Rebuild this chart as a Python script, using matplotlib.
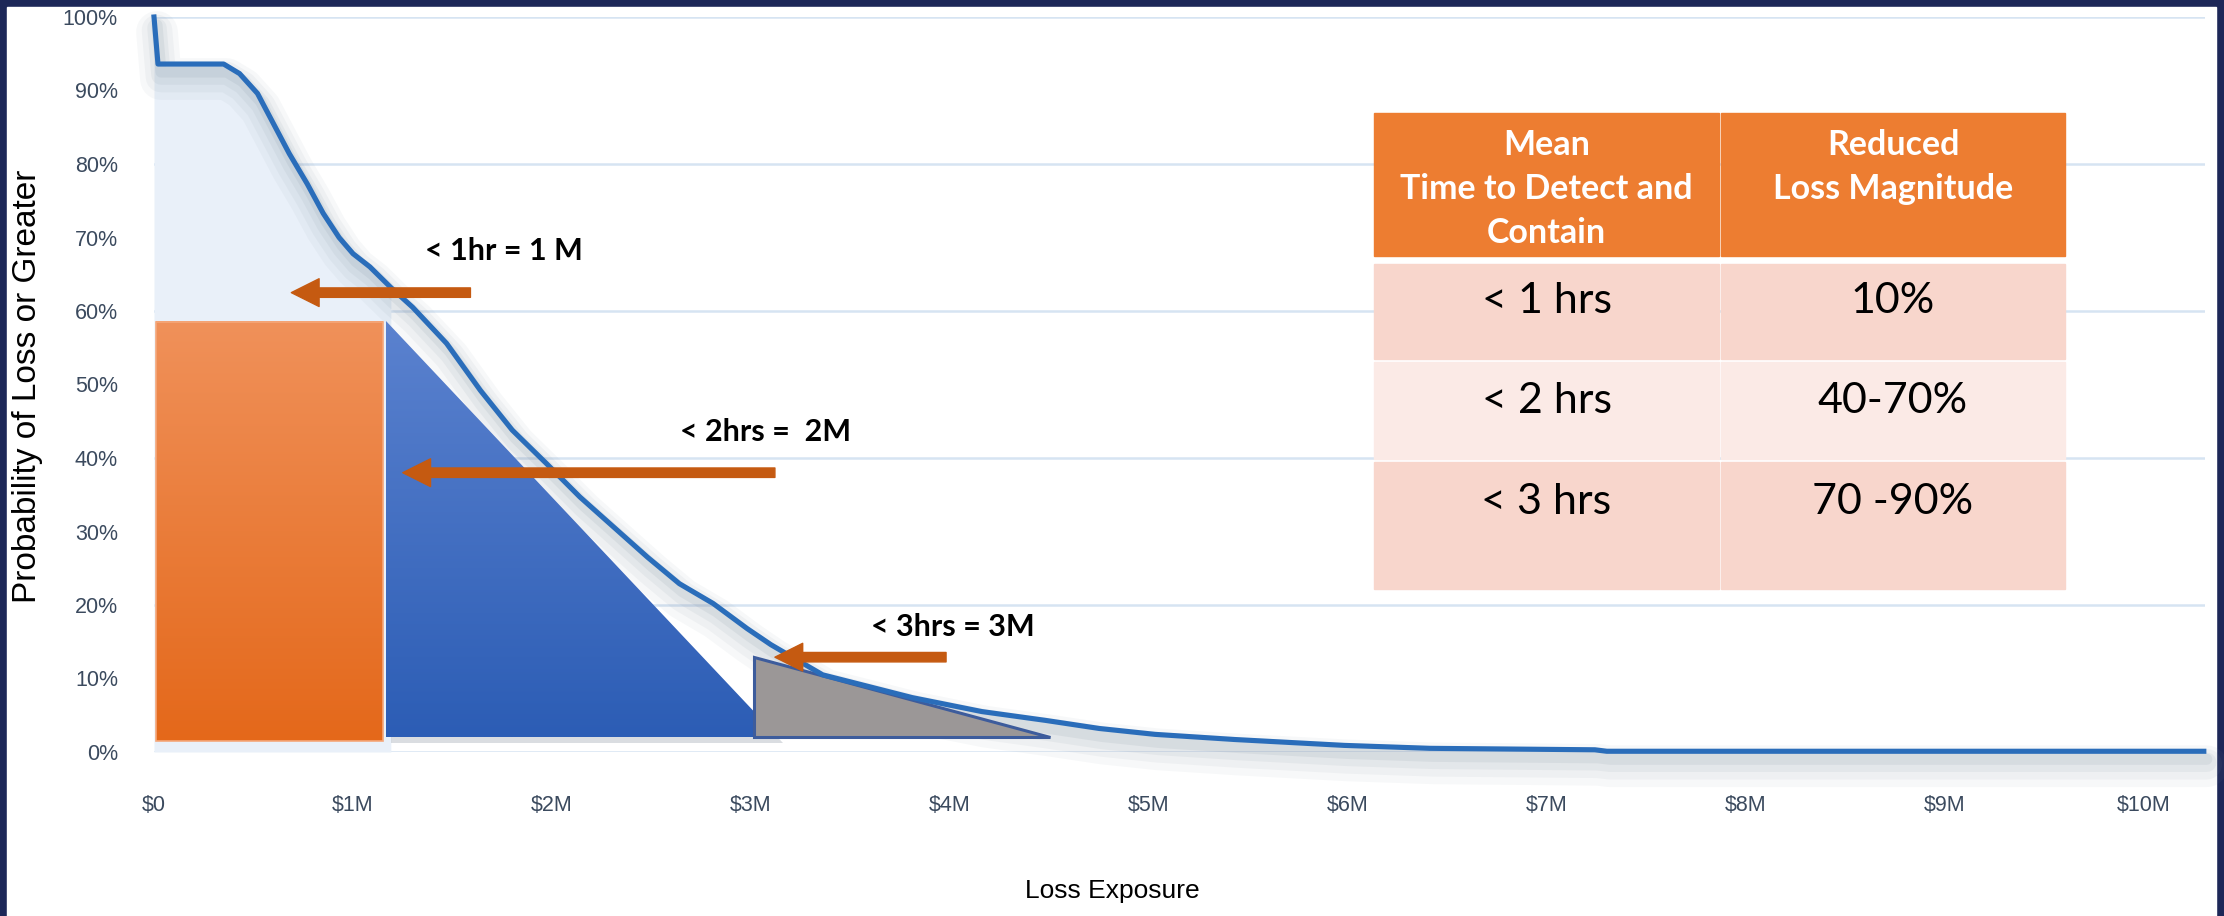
import matplotlib
matplotlib.use('Agg')
import matplotlib.pyplot as plt
import matplotlib.patches as mpatches
import matplotlib.transforms as mtransforms
import numpy as np

W, H = 2224, 916

#### Data
# loss exceedance curve: loss in $M, probability in %
loss_m = [0, 0.02, 0.35, 0.43, 0.52, 0.60, 0.68, 0.77, 0.85, 0.93, 1.00, 1.085,
          1.19, 1.30, 1.47, 1.64, 1.80, 1.97, 2.14, 2.31, 2.48, 2.64, 2.81,
          2.98, 3.10, 3.36, 3.81, 4.16, 4.48, 4.75, 5.03, 5.43, 5.98, 6.41,
          7.24, 7.30, 10.3]
prob_pct = [100, 93.6, 93.6, 92.3, 89.6, 85.5, 81.4, 77.3, 73.3, 70.0, 67.8, 66.0,
            63.2, 60.5, 55.6, 49.2, 43.8, 39.3, 34.7, 30.6, 26.5, 22.9, 20.2,
            16.8, 14.6, 10.5, 7.4, 5.5, 4.3, 3.2, 2.4, 1.7, 0.9, 0.5,
            0.3, 0.1, 0.1]

y_ticks = list(range(0, 101, 10))
y_labels = ['%d%%' % v for v in y_ticks]
x_ticks = list(range(0, 11))
x_labels = [r'\$0'] + [r'\$%dM' % v for v in range(1, 11)]

# shaded regions
box_1hr = (0.01, 1.15, 1.45, 58.5)  # x0, x1, y0, y1
tri_2hr = [(1.166, 58.7), (1.166, 2.1), (3.135, 2.1)]
tri_3hr = [(3.015, 12.9), (3.015, 2.1), (4.5, 2.1)]

# arrows and their labels
arrow_tail = [(1.59, 62.5), (3.12, 38.0), (3.98, 12.9)]
arrow_tip = [(0.69, 62.5), (1.25, 38.0), (3.12, 12.9)]
arrow_text = ['< 1hr = 1 M', '< 2hrs =  2M', '< 3hrs = 3M']
text_pos = [(1.76, 68.1), (3.075, 43.5), (4.015, 17.0)]

# table
col_headers = ['Mean\nTime to Detect and\nContain', 'Reduced\nLoss Magnitude']
detect_times = ['< 1 hrs', '< 2 hrs', '< 3 hrs']
loss_reduction = ['10%', '40-70%', '70 -90%']

narrow = ['Liberation Sans Narrow', 'Liberation Sans', 'DejaVu Sans']
calib = ['Lato', 'DejaVu Sans']


def fx(px):
    return px / W


def fy(py):
    return 1 - py / H


#### Figure
fig = plt.figure(figsize=(W / 100, H / 100), dpi=100)
fig.patch.set_facecolor('#1d2758')
fig.patches.append(mpatches.Rectangle((fx(7), 0), fx(2216) - fx(7), fy(7),
                                      transform=fig.transFigure, color='white', zorder=-5))

ax = fig.add_axes([fx(154), fy(752), fx(2205) - fx(154), fy(17) - fy(752)])
ax.set_facecolor('none')
for s in ax.spines.values():
    s.set_visible(False)

for g in range(0, 101, 20):
    ax.axhline(g, color='#d6e4f2', lw=1.8, zorder=1)

x = np.array(loss_m)
y = np.array(prob_pct)

# light fill under the top of the curve
ax.fill_between(x, y, 0, where=x <= 1.2, color='#e9f0f9', zorder=1.5, lw=0)

# soft shadow below the curve
for lw, a, dy in [(30, 0.06, -15), (22, 0.07, -13), (14, 0.09, -11), (8, 0.12, -8)]:
    tr = mtransforms.offset_copy(ax.transData, fig=fig, x=3, y=dy, units='dots')
    ax.plot(x, y, color='#7d8d9c', lw=lw, alpha=a, transform=tr, zorder=2,
            solid_capstyle='round', clip_on=False)

# gradient boxes
grad = np.linspace(0, 1, 256).reshape(-1, 1)
x0, x1, y0, y1 = box_1hr
orange_cmap = matplotlib.colors.LinearSegmentedColormap.from_list('o', ['#f0915a', '#e4681a'])
ax.imshow(grad, extent=[x0, x1, y0, y1], cmap=orange_cmap, aspect='auto', zorder=3,
          origin='upper')
ax.add_patch(mpatches.Rectangle((x0, y0), x1 - x0, y1 - y0, fill=False,
                                edgecolor='#f5a77a', lw=1.2, zorder=3.1))

# shadow under the blue triangle
tr_sh = mtransforms.offset_copy(ax.transData, fig=fig, x=5, y=-6, units='dots')
ax.add_patch(mpatches.Polygon(tri_2hr, closed=True, color='#6c7a88', alpha=0.25,
                              transform=tr_sh, zorder=2.9, lw=0))

blue_cmap = matplotlib.colors.LinearSegmentedColormap.from_list('b', ['#5b82cf', '#2c5db5'])
tri = mpatches.Polygon(tri_2hr, closed=True, facecolor='none', edgecolor='none')
ax.add_patch(tri)
bx = [p[0] for p in tri_2hr]
by = [p[1] for p in tri_2hr]
im = ax.imshow(grad, extent=[min(bx), max(bx), min(by), max(by)], cmap=blue_cmap,
               aspect='auto', zorder=3, origin='upper')
im.set_clip_path(tri)

ax.add_patch(mpatches.Polygon(tri_3hr, closed=True, facecolor='#9b9797',
                              edgecolor='#3d5c9c', lw=2.2, zorder=3.2))

# the curve
ax.plot(x, y, color='#2a6dba', lw=3.7, zorder=4, clip_on=False, solid_joinstyle='round')

# arrows
for tail, tip, txt, pos in zip(arrow_tail, arrow_tip, arrow_text, text_pos):
    ax.annotate('', xy=tip, xytext=tail,
                arrowprops=dict(arrowstyle='simple,head_length=1.0,head_width=1.0,tail_width=0.34',
                                mutation_scale=20, color='#c55a11', shrinkA=0, shrinkB=0),
                zorder=5)
    ax.text(pos[0], pos[1], txt, fontsize=22, fontweight='bold', family=calib,
            ha='center', va='center', color='black', zorder=6)

ax.set_xlim(0, 10.306)
ax.set_ylim(0, 100)
ax.set_yticks(y_ticks)
ax.set_yticklabels(y_labels, family=narrow, fontsize=15.5, color='#3b4a5e')
ax.set_xticks(x_ticks)
ax.set_xticklabels(x_labels, family=narrow, fontsize=15.5, color='#3b4a5e')
ax.tick_params(axis='y', length=0, pad=26)
ax.tick_params(axis='x', length=0, pad=31)

fig.text(fx(1112), fy(891), 'Loss Exposure', family=narrow, fontsize=19,
         ha='center', va='center', color='black')
fig.text(fx(28), fy(386), 'Probability of Loss or Greater', family=['Liberation Sans', 'DejaVu Sans'],
         fontsize=24, rotation=90, ha='center', va='center', color='black')

#### Table
cols = [(1374, 1719), (1721, 2065)]
head_y = (113, 256)
row_y = [(264, 359), (362, 459), (462, 589)]
row_col = ['#f8d6cc', '#fbeae6', '#f8d6cc']


def cell(xa, xb, ya, yb, color):
    fig.patches.append(mpatches.Rectangle((fx(xa), fy(yb)), fx(xb) - fx(xa), fy(ya) - fy(yb),
                                          transform=fig.transFigure, color=color, zorder=5))


for (xa, xb), hdr, cy in zip(cols, col_headers, [189, 167]):
    cell(xa, xb, head_y[0], head_y[1], '#ed7d31')
    fig.text(fx((xa + xb) / 2), fy(cy), hdr, family=calib, fontweight='bold', fontsize=24.5,
             color='white', ha='center', va='center', linespacing=1.48, zorder=6)

for i, (ya, yb) in enumerate(row_y):
    for j, (xa, xb) in enumerate(cols):
        cell(xa, xb, ya, yb, row_col[i])
    ty = [301, 401, 502][i]
    fig.text(fx(sum(cols[0]) / 2), fy(ty), detect_times[i], family=calib, fontsize=31,
             color='black', ha='center', va='center', zorder=6)
    fig.text(fx(sum(cols[1]) / 2), fy(ty), loss_reduction[i], family=calib, fontsize=31,
             color='black', ha='center', va='center', zorder=6)

fig.savefig('out.png', dpi=100, facecolor=fig.get_facecolor())
